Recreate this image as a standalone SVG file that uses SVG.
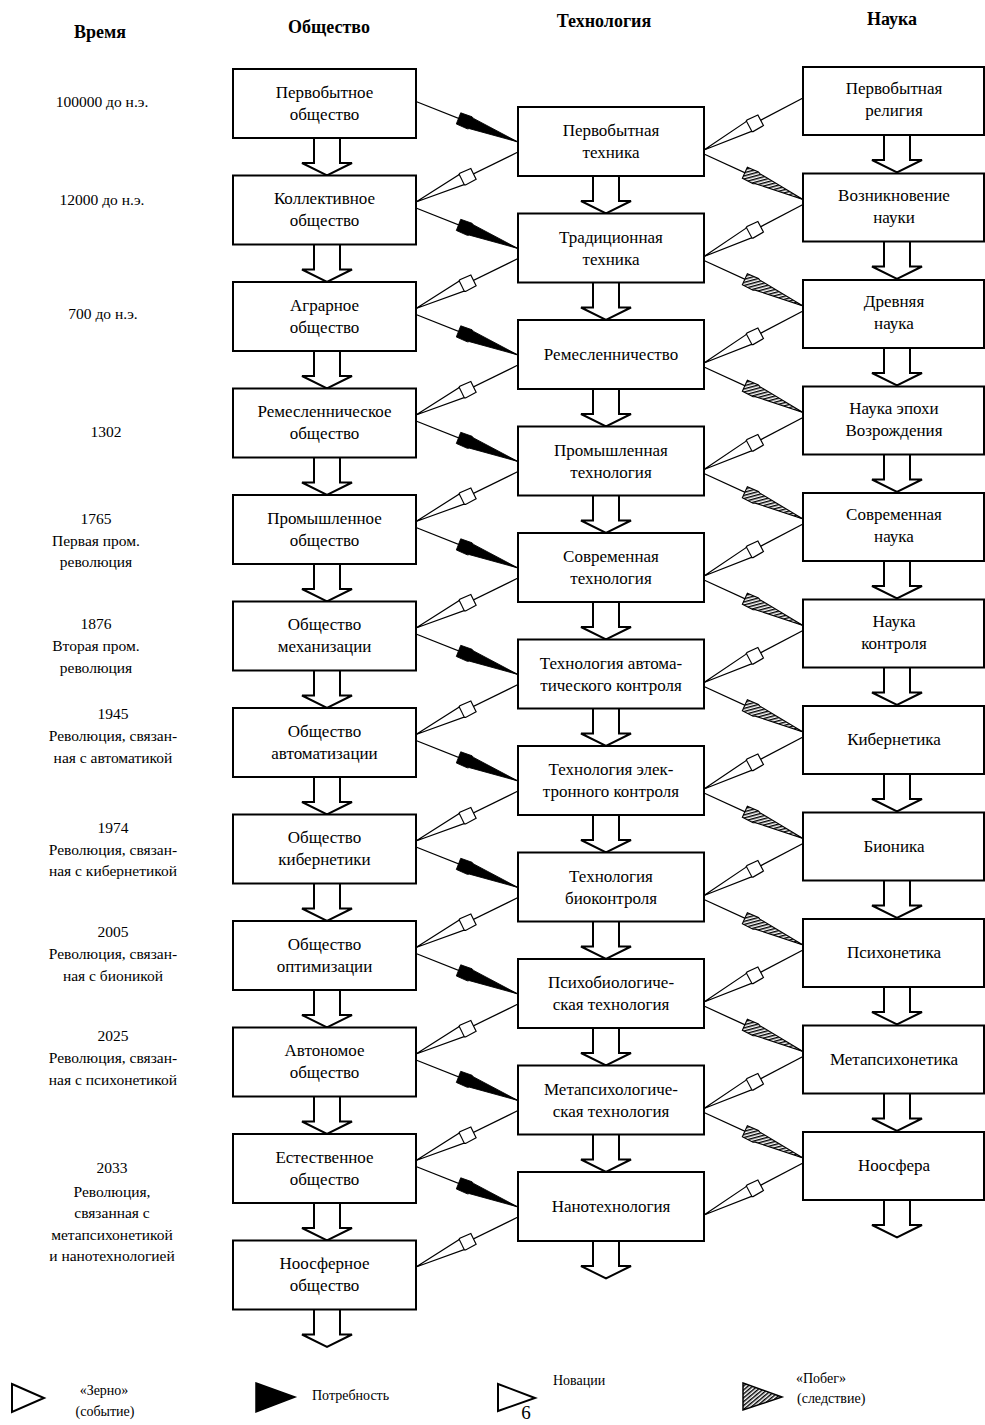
<svg xmlns="http://www.w3.org/2000/svg" width="985" height="1425" viewBox="0 0 985 1425">
<style>
.box{fill:#fff;stroke:#000;stroke-width:2}
.lbl{font-family:"Liberation Serif",serif;font-size:17px;text-anchor:middle;fill:#000}
.hdr{font-family:"Liberation Serif",serif;font-size:18px;font-weight:bold;text-anchor:middle;fill:#000}
.tm{font-family:"Liberation Serif",serif;font-size:15.5px;text-anchor:middle;fill:#000}
.lg{font-family:"Liberation Serif",serif;font-size:14px;fill:#000}
.ln{fill:none;stroke:#000;stroke-width:1.3}
.need{marker-end:url(#mNeed)}
.shoot{marker-end:url(#mShoot)}
.seed{marker-start:url(#mSeed)}
.da{fill:#fff;stroke:#000;stroke-width:2;stroke-linejoin:miter}
</style>
<defs>
<pattern id="hatch" patternUnits="userSpaceOnUse" width="3" height="3" patternTransform="rotate(50)">
<rect width="3" height="3" fill="#fff"/>
<line x1="0.7" y1="0" x2="0.7" y2="3" stroke="#000" stroke-width="1.5"/>
</pattern>
<marker id="mNeed" viewBox="-68 -9 70 18" refX="0" refY="0" markerWidth="70" markerHeight="18" markerUnits="userSpaceOnUse" orient="auto">
<path d="M0,0 L-50,-5.5 L-52,-6.5 L-64,-6 L-64,6 L-52,6.5 L-50,5.5 Z" fill="#000" stroke="#000" stroke-width="0.8"/>
</marker>
<marker id="mShoot" viewBox="-68 -9 70 18" refX="0" refY="0" markerWidth="70" markerHeight="18" markerUnits="userSpaceOnUse" orient="auto">
<path d="M0,0 L-50,-5.5 L-52,-6.5 L-64,-6 L-64,6 L-52,6.5 L-50,5.5 Z" fill="url(#hatch)" stroke="#000" stroke-width="1.1"/>
</marker>
<marker id="mSeed" viewBox="-2 -9 70 18" refX="0" refY="0" markerWidth="70" markerHeight="18" markerUnits="userSpaceOnUse" orient="auto">
<path d="M0,0 L50,-5.5 L52,-6.5 L64,-6 L64,6 L52,6.5 L50,5.5 Z" fill="#fff" stroke="#000" stroke-width="1.2"/>
<path d="M51,-6 V6" stroke="#000" stroke-width="1.1" fill="none"/>
</marker>
<path id="darrow" class="da" d="M-13,0 V25 H-25 L0,37.5 L25,25 H13 V0"/>
</defs>
<rect width="985" height="1425" fill="#fff"/>

<g id="headers">
<text class="hdr" x="100" y="38">Время</text>
<text class="hdr" x="329" y="33">Общество</text>
<text class="hdr" x="604" y="27">Технология</text>
<text class="hdr" x="892" y="25">Наука</text>
</g>

<g id="time">
<text class="tm" x="102" y="107">100000 до н.э.</text>
<text class="tm" x="102" y="205">12000 до н.э.</text>
<text class="tm" x="103" y="319">700 до н.э.</text>
<text class="tm" x="106" y="437">1302</text>
<text class="tm" x="96" y="524">1765</text>
<text class="tm" x="96" y="546">Первая пром.</text>
<text class="tm" x="96" y="567">революция</text>
<text class="tm" x="96" y="629">1876</text>
<text class="tm" x="96" y="651">Вторая пром.</text>
<text class="tm" x="96" y="673">революция</text>
<text class="tm" x="113" y="719">1945</text>
<text class="tm" x="113" y="741">Революция, связан-</text>
<text class="tm" x="113" y="763">ная с автоматикой</text>
<text class="tm" x="113" y="833">1974</text>
<text class="tm" x="113" y="855">Революция, связан-</text>
<text class="tm" x="113" y="876">ная с кибернетикой</text>
<text class="tm" x="113" y="937">2005</text>
<text class="tm" x="113" y="959">Революция, связан-</text>
<text class="tm" x="113" y="981">ная с бионикой</text>
<text class="tm" x="113" y="1041">2025</text>
<text class="tm" x="113" y="1063">Революция, связан-</text>
<text class="tm" x="113" y="1085">ная с психонетикой</text>
<text class="tm" x="112" y="1173">2033</text>
<text class="tm" x="112" y="1197">Революция,</text>
<text class="tm" x="112" y="1218">связанная с</text>
<text class="tm" x="112" y="1240">метапсихонетикой</text>
<text class="tm" x="112" y="1261">и нанотехнологией</text>
</g>

<g id="connectors">
<line class="ln need" x1="416" y1="101.5" x2="518" y2="142"/>
<line class="ln need" x1="416" y1="208" x2="518" y2="248.5"/>
<line class="ln need" x1="416" y1="314.5" x2="518" y2="355"/>
<line class="ln need" x1="416" y1="421" x2="518" y2="461.5"/>
<line class="ln need" x1="416" y1="527.5" x2="518" y2="568"/>
<line class="ln need" x1="416" y1="634" x2="518" y2="674.5"/>
<line class="ln need" x1="416" y1="740.5" x2="518" y2="781"/>
<line class="ln need" x1="416" y1="847" x2="518" y2="887.5"/>
<line class="ln need" x1="416" y1="953.5" x2="518" y2="994"/>
<line class="ln need" x1="416" y1="1060" x2="518" y2="1100.5"/>
<line class="ln need" x1="416" y1="1166.5" x2="518" y2="1207"/>

<line class="ln seed" x1="416" y1="202" x2="518" y2="152"/>
<line class="ln seed" x1="416" y1="308.5" x2="518" y2="258.5"/>
<line class="ln seed" x1="416" y1="415" x2="518" y2="365"/>
<line class="ln seed" x1="416" y1="521.5" x2="518" y2="471.5"/>
<line class="ln seed" x1="416" y1="628" x2="518" y2="578"/>
<line class="ln seed" x1="416" y1="734.5" x2="518" y2="684.5"/>
<line class="ln seed" x1="416" y1="841" x2="518" y2="791"/>
<line class="ln seed" x1="416" y1="947.5" x2="518" y2="897.5"/>
<line class="ln seed" x1="416" y1="1054" x2="518" y2="1004"/>
<line class="ln seed" x1="416" y1="1160.5" x2="518" y2="1110.5"/>
<line class="ln seed" x1="416" y1="1267" x2="518" y2="1217"/>

<line class="ln seed" x1="704" y1="150" x2="803" y2="98"/>
<line class="ln seed" x1="704" y1="256.5" x2="803" y2="204.5"/>
<line class="ln seed" x1="704" y1="363" x2="803" y2="311"/>
<line class="ln seed" x1="704" y1="469.5" x2="803" y2="417.5"/>
<line class="ln seed" x1="704" y1="576" x2="803" y2="524"/>
<line class="ln seed" x1="704" y1="682.5" x2="803" y2="630.5"/>
<line class="ln seed" x1="704" y1="789" x2="803" y2="737"/>
<line class="ln seed" x1="704" y1="895.5" x2="803" y2="843.5"/>
<line class="ln seed" x1="704" y1="1002" x2="803" y2="950"/>
<line class="ln seed" x1="704" y1="1108.5" x2="803" y2="1056.5"/>
<line class="ln seed" x1="704" y1="1215" x2="803" y2="1163"/>

<line class="ln shoot" x1="704" y1="154" x2="803" y2="199.5"/>
<line class="ln shoot" x1="704" y1="260.5" x2="803" y2="306"/>
<line class="ln shoot" x1="704" y1="367" x2="803" y2="412.5"/>
<line class="ln shoot" x1="704" y1="473.5" x2="803" y2="519"/>
<line class="ln shoot" x1="704" y1="580" x2="803" y2="625.5"/>
<line class="ln shoot" x1="704" y1="686.5" x2="803" y2="732"/>
<line class="ln shoot" x1="704" y1="793" x2="803" y2="838.5"/>
<line class="ln shoot" x1="704" y1="899.5" x2="803" y2="945"/>
<line class="ln shoot" x1="704" y1="1006" x2="803" y2="1051.5"/>
<line class="ln shoot" x1="704" y1="1112.5" x2="803" y2="1158"/>

<use href="#darrow" x="327" y="138"/>
<use href="#darrow" x="327" y="244.5"/>
<use href="#darrow" x="327" y="351"/>
<use href="#darrow" x="327" y="457.5"/>
<use href="#darrow" x="327" y="564"/>
<use href="#darrow" x="327" y="670.5"/>
<use href="#darrow" x="327" y="777"/>
<use href="#darrow" x="327" y="883.5"/>
<use href="#darrow" x="327" y="990"/>
<use href="#darrow" x="327" y="1096.5"/>
<use href="#darrow" x="327" y="1203"/>
<use href="#darrow" x="327" y="1309.5"/>

<use href="#darrow" x="606" y="176"/>
<use href="#darrow" x="606" y="282.5"/>
<use href="#darrow" x="606" y="389"/>
<use href="#darrow" x="606" y="495.5"/>
<use href="#darrow" x="606" y="602"/>
<use href="#darrow" x="606" y="708.5"/>
<use href="#darrow" x="606" y="815"/>
<use href="#darrow" x="606" y="921.5"/>
<use href="#darrow" x="606" y="1028"/>
<use href="#darrow" x="606" y="1134.5"/>
<use href="#darrow" x="606" y="1241"/>

<use href="#darrow" x="897" y="135"/>
<use href="#darrow" x="897" y="241.5"/>
<use href="#darrow" x="897" y="348"/>
<use href="#darrow" x="897" y="454.5"/>
<use href="#darrow" x="897" y="561"/>
<use href="#darrow" x="897" y="667.5"/>
<use href="#darrow" x="897" y="774"/>
<use href="#darrow" x="897" y="880.5"/>
<use href="#darrow" x="897" y="987"/>
<use href="#darrow" x="897" y="1093.5"/>
<use href="#darrow" x="897" y="1200"/>
</g>

<g id="soc1"><rect class="box" x="233" y="69" width="183" height="69"/><text class="lbl" x="324.5" y="97.5">Первобытное</text><text class="lbl" x="324.5" y="119.5">общество</text></g>
<g id="soc2"><rect class="box" x="233" y="175.5" width="183" height="69"/><text class="lbl" x="324.5" y="204">Коллективное</text><text class="lbl" x="324.5" y="226">общество</text></g>
<g id="soc3"><rect class="box" x="233" y="282" width="183" height="69"/><text class="lbl" x="324.5" y="310.5">Аграрное</text><text class="lbl" x="324.5" y="332.5">общество</text></g>
<g id="soc4"><rect class="box" x="233" y="388.5" width="183" height="69"/><text class="lbl" x="324.5" y="417">Ремесленническое</text><text class="lbl" x="324.5" y="439">общество</text></g>
<g id="soc5"><rect class="box" x="233" y="495" width="183" height="69"/><text class="lbl" x="324.5" y="523.5">Промышленное</text><text class="lbl" x="324.5" y="545.5">общество</text></g>
<g id="soc6"><rect class="box" x="233" y="601.5" width="183" height="69"/><text class="lbl" x="324.5" y="630">Общество</text><text class="lbl" x="324.5" y="652">механизации</text></g>
<g id="soc7"><rect class="box" x="233" y="708" width="183" height="69"/><text class="lbl" x="324.5" y="736.5">Общество</text><text class="lbl" x="324.5" y="758.5">автоматизации</text></g>
<g id="soc8"><rect class="box" x="233" y="814.5" width="183" height="69"/><text class="lbl" x="324.5" y="843">Общество</text><text class="lbl" x="324.5" y="865">кибернетики</text></g>
<g id="soc9"><rect class="box" x="233" y="921" width="183" height="69"/><text class="lbl" x="324.5" y="949.5">Общество</text><text class="lbl" x="324.5" y="971.5">оптимизации</text></g>
<g id="soc10"><rect class="box" x="233" y="1027.5" width="183" height="69"/><text class="lbl" x="324.5" y="1056">Автономое</text><text class="lbl" x="324.5" y="1078">общество</text></g>
<g id="soc11"><rect class="box" x="233" y="1134" width="183" height="69"/><text class="lbl" x="324.5" y="1162.5">Естественное</text><text class="lbl" x="324.5" y="1184.5">общество</text></g>
<g id="soc12"><rect class="box" x="233" y="1240.5" width="183" height="69"/><text class="lbl" x="324.5" y="1269">Ноосферное</text><text class="lbl" x="324.5" y="1291">общество</text></g>

<g id="tech1"><rect class="box" x="518" y="107" width="186" height="69"/><text class="lbl" x="611" y="136">Первобытная</text><text class="lbl" x="611" y="158">техника</text></g>
<g id="tech2"><rect class="box" x="518" y="213.5" width="186" height="69"/><text class="lbl" x="611" y="242.5">Традиционная</text><text class="lbl" x="611" y="264.5">техника</text></g>
<g id="tech3"><rect class="box" x="518" y="320" width="186" height="69"/><text class="lbl" x="611" y="360">Ремесленничество</text></g>
<g id="tech4"><rect class="box" x="518" y="426.5" width="186" height="69"/><text class="lbl" x="611" y="455.5">Промышленная</text><text class="lbl" x="611" y="477.5">технология</text></g>
<g id="tech5"><rect class="box" x="518" y="533" width="186" height="69"/><text class="lbl" x="611" y="562">Современная</text><text class="lbl" x="611" y="584">технология</text></g>
<g id="tech6"><rect class="box" x="518" y="639.5" width="186" height="69"/><text class="lbl" x="611" y="668.5">Технология  автома-</text><text class="lbl" x="611" y="690.5">тического контроля</text></g>
<g id="tech7"><rect class="box" x="518" y="746" width="186" height="69"/><text class="lbl" x="611" y="775">Технология элек-</text><text class="lbl" x="611" y="797">тронного контроля</text></g>
<g id="tech8"><rect class="box" x="518" y="852.5" width="186" height="69"/><text class="lbl" x="611" y="881.5">Технология</text><text class="lbl" x="611" y="903.5">биоконтроля</text></g>
<g id="tech9"><rect class="box" x="518" y="959" width="186" height="69"/><text class="lbl" x="611" y="988">Психобиологиче-</text><text class="lbl" x="611" y="1010">ская технология</text></g>
<g id="tech10"><rect class="box" x="518" y="1065.5" width="186" height="69"/><text class="lbl" x="611" y="1094.5">Метапсихологиче-</text><text class="lbl" x="611" y="1116.5">ская технология</text></g>
<g id="tech11"><rect class="box" x="518" y="1172" width="186" height="69"/><text class="lbl" x="611" y="1212">Нанотехнология</text></g>

<g id="sci1"><rect class="box" x="803" y="67" width="181" height="68"/><text class="lbl" x="894" y="94">Первобытная</text><text class="lbl" x="894" y="116">религия</text></g>
<g id="sci2"><rect class="box" x="803" y="173.5" width="181" height="68"/><text class="lbl" x="894" y="200.5">Возникновение</text><text class="lbl" x="894" y="222.5">науки</text></g>
<g id="sci3"><rect class="box" x="803" y="280" width="181" height="68"/><text class="lbl" x="894" y="307">Древняя</text><text class="lbl" x="894" y="329">наука</text></g>
<g id="sci4"><rect class="box" x="803" y="386.5" width="181" height="68"/><text class="lbl" x="894" y="413.5">Наука эпохи</text><text class="lbl" x="894" y="435.5">Возрождения</text></g>
<g id="sci5"><rect class="box" x="803" y="493" width="181" height="68"/><text class="lbl" x="894" y="520">Современная</text><text class="lbl" x="894" y="542">наука</text></g>
<g id="sci6"><rect class="box" x="803" y="599.5" width="181" height="68"/><text class="lbl" x="894" y="626.5">Наука</text><text class="lbl" x="894" y="648.5">контроля</text></g>
<g id="sci7"><rect class="box" x="803" y="706" width="181" height="68"/><text class="lbl" x="894" y="745">Кибернетика</text></g>
<g id="sci8"><rect class="box" x="803" y="812.5" width="181" height="68"/><text class="lbl" x="894" y="851.5">Бионика</text></g>
<g id="sci9"><rect class="box" x="803" y="919" width="181" height="68"/><text class="lbl" x="894" y="958">Психонетика</text></g>
<g id="sci10"><rect class="box" x="803" y="1025.5" width="181" height="68"/><text class="lbl" x="894" y="1064.5">Метапсихонетика</text></g>
<g id="sci11"><rect class="box" x="803" y="1132" width="181" height="68"/><text class="lbl" x="894" y="1171">Ноосфера</text></g>

<g id="legend">
<path d="M12,1384 L44,1398 L12,1412 Z" fill="#fff" stroke="#000" stroke-width="2"/>
<text class="lg" x="104" y="1395" text-anchor="middle">«Зерно»</text>
<text class="lg" x="105" y="1416" text-anchor="middle">(событие)</text>
<path d="M256,1383 L295,1397 L256,1412 Z" fill="#000" stroke="#000" stroke-width="1.5"/>
<text class="lg" x="312" y="1400">Потребность</text>
<path d="M498,1384 L535,1398 L498,1411 Z" fill="#fff" stroke="#000" stroke-width="2"/>
<text class="lg" x="553" y="1385">Новации</text>
<text x="526" y="1419" style="font-family:'Liberation Serif',serif;font-size:19px;text-anchor:middle;fill:#000">6</text>
<path d="M743,1383 L782,1397 L743,1410 Z" fill="url(#hatch)" stroke="#000" stroke-width="1.5"/>
<text class="lg" x="796" y="1383">«Побег»</text>
<text class="lg" x="797" y="1403">(следствие)</text>
</g>
</svg>
